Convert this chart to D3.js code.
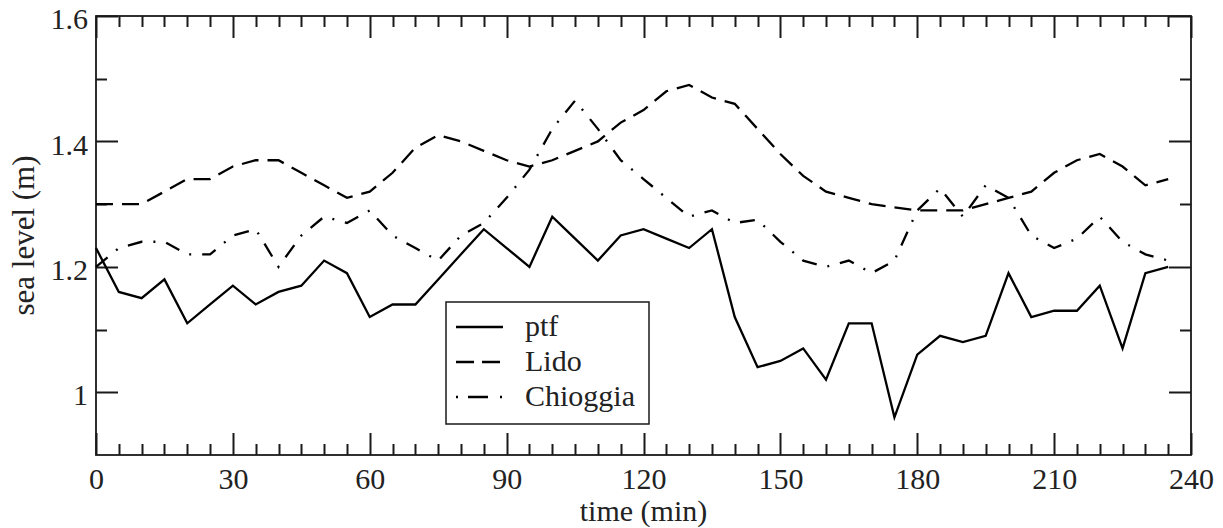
<!DOCTYPE html>
<html>
<head>
<meta charset="utf-8">
<script src="https://cdn.jsdelivr.net/npm/d3@7"></script>
<style>
  html, body { margin: 0; padding: 0; background: #fff; }
  svg text { font-family: "Liberation Serif", "Times New Roman", serif; fill: #222; }
</style>
</head>
<body>
<div id="chart"></div>
<script>
// time in minutes
const times = [0, 5, 10, 15, 20, 25, 30, 35, 40, 45, 50, 55, 60, 65, 70, 75, 80, 85, 90, 95,
  100, 105, 110, 115, 120, 125, 130, 135, 140, 145, 150, 155, 160, 165, 170, 175, 180, 185,
  190, 195, 200, 205, 210, 215, 220, 225, 230, 235];

const ptf = [1.23, 1.16, 1.15, 1.18, 1.11, 1.14, 1.17, 1.14, 1.16, 1.17, 1.21, 1.19, 1.12,
  1.14, 1.14, 1.18, 1.22, 1.26, 1.23, 1.20, 1.28, 1.245, 1.21, 1.25, 1.26, 1.245, 1.23, 1.26,
  1.12, 1.04, 1.05, 1.07, 1.02, 1.11, 1.11, 0.96, 1.06, 1.09, 1.08, 1.09, 1.19, 1.12, 1.13,
  1.13, 1.17, 1.07, 1.19, 1.20];

const lido = [1.30, 1.30, 1.30, 1.32, 1.34, 1.34, 1.36, 1.37, 1.37, 1.35, 1.33, 1.31, 1.32,
  1.35, 1.39, 1.41, 1.40, 1.385, 1.37, 1.36, 1.37, 1.385, 1.40, 1.43, 1.45, 1.48, 1.49, 1.47,
  1.46, 1.42, 1.38, 1.345, 1.32, 1.31, 1.30, 1.295, 1.29, 1.29, 1.29, 1.30, 1.31, 1.32, 1.35,
  1.37, 1.38, 1.36, 1.33, 1.34];

const chioggia = [1.20, 1.23, 1.24, 1.24, 1.22, 1.22, 1.25, 1.26, 1.20, 1.25, 1.28, 1.27, 1.29,
  1.25, 1.23, 1.21, 1.25, 1.27, 1.31, 1.355, 1.42, 1.465, 1.42, 1.37, 1.34, 1.31, 1.28, 1.29,
  1.27, 1.275, 1.24, 1.21, 1.20, 1.21, 1.19, 1.21, 1.29, 1.325, 1.28, 1.33, 1.31, 1.25, 1.23,
  1.245, 1.28, 1.24, 1.22, 1.21];

const seriesNames = ["ptf", "Lido", "Chioggia"];
const xMajor = [0, 30, 60, 90, 120, 150, 180, 210, 240];
const xMinor = [5, 10, 15, 20, 25, 35, 40, 45, 50, 55, 65, 70, 75, 80, 85, 95, 100, 105, 110,
  115, 125, 130, 135, 140, 145, 155, 160, 165, 170, 175, 185, 190, 195, 200, 205, 215, 220,
  225, 230, 235];
const yMajor = [1.0, 1.2, 1.4, 1.6];
const yMinor = [1.1, 1.3, 1.5];

const W = 1223, H = 528;
const margin = { top: 16, right: 32, bottom: 73, left: 96 };
const width = W - margin.left - margin.right;
const height = H - margin.top - margin.bottom;

const svg = d3.select("#chart").append("svg")
  .attr("width", W)
  .attr("height", H);

const g = svg.append("g")
  .attr("transform", "translate(" + margin.left + "," + margin.top + ")");

const x = d3.scaleLinear().domain([0, 240]).range([0, width]);
const y = d3.scaleLinear().domain([0.9, 1.6]).range([height, 0]);

const majorLen = 22, minorLen = 11;
const fontSize = 30;
const axisColor = "#1a1a1a";

function styleLabels(sel) {
  sel.select(".domain").remove();
  sel.selectAll(".tick line").remove();
  sel.selectAll(".tick text")
    .style("font-family", '"Liberation Serif", "Times New Roman", serif')
    .style("font-size", fontSize + "px")
    .attr("fill", axisColor);
}

// tick labels from d3 axes
g.append("g")
  .attr("transform", "translate(0," + height + ")")
  .call(d3.axisBottom(x).tickValues(xMajor).tickSize(0).tickFormat(d3.format("d")))
  .call(styleLabels)
  .selectAll(".tick text").attr("y", 34).attr("dy", null);

g.append("g")
  .call(d3.axisLeft(y).tickValues(yMajor).tickSize(0).tickPadding(8)
    .tickFormat(d => d === 1 ? "1" : d3.format(".1f")(d)))
  .call(styleLabels)
  .selectAll(".tick text").attr("dy", "0.42em");

// inward tick marks on all four sides, one path
const tp = d3.path();
function xTicks(vals, len) {
  vals.forEach(d => {
    const px = Math.round(x(d)) + 0.5;
    tp.moveTo(px, height); tp.lineTo(px, height - len);
    tp.moveTo(px, 0); tp.lineTo(px, len);
  });
}
function yTicks(vals, len) {
  vals.forEach(d => {
    const py = Math.round(y(d)) + 0.5;
    tp.moveTo(0, py); tp.lineTo(len, py);
    tp.moveTo(width, py); tp.lineTo(width - len, py);
  });
}
xTicks(xMajor, majorLen);
xTicks(xMinor, minorLen);
yTicks(yMajor, majorLen);
yTicks(yMinor, minorLen);

g.append("path")
  .attr("d", tp.toString())
  .attr("fill", "none")
  .style("stroke", axisColor)
  .style("stroke-width", "2px");

// frame
g.append("rect")
  .attr("x", 0).attr("y", 0)
  .attr("width", width).attr("height", height)
  .attr("fill", "none")
  .attr("stroke", axisColor)
  .attr("stroke-width", 1.8);

// axis titles
svg.append("text")
  .attr("x", margin.left + width / 2)
  .attr("y", 521)
  .attr("text-anchor", "middle")
  .style("font-size", fontSize + "px")
  .text("time (min)");

svg.append("text")
  .attr("transform", "translate(34," + (margin.top + height / 2) + ") rotate(-90)")
  .attr("text-anchor", "middle")
  .style("font-size", (fontSize + 1) + "px")
  .text("sea level (m)");

// series
const dashes = {
  "ptf": null,
  "Lido": "17,9",
  "Chioggia": "15,11,2,11"
};
const values = { "ptf": ptf, "Lido": lido, "Chioggia": chioggia };

const line = d3.line()
  .x((d, i) => x(times[i]))
  .y(d => y(d));

seriesNames.forEach(name => {
  g.append("path")
    .datum(values[name])
    .attr("d", line)
    .attr("fill", "none")
    .attr("stroke", "#000")
    .attr("stroke-width", 2.3)
    .attr("stroke-linejoin", "miter")
    .attr("stroke-dasharray", dashes[name]);
});

// legend
const legend = svg.append("g").attr("transform", "translate(446,302)");
legend.append("rect")
  .attr("width", 203).attr("height", 122)
  .attr("fill", "#fff")
  .attr("stroke", axisColor)
  .attr("stroke-width", 1.5);

const legendDash = { "ptf": null, "Lido": "18,8", "Chioggia": "2,10,20,12" };
seriesNames.forEach((name, i) => {
  const ly = 25 + i * 35;
  legend.append("line")
    .attr("x1", 10).attr("x2", 57)
    .attr("y1", ly).attr("y2", ly)
    .attr("stroke", "#000")
    .attr("stroke-width", 2.3)
    .attr("stroke-dasharray", legendDash[name]);
  legend.append("text")
    .attr("x", 79)
    .attr("y", ly + 9)
    .style("font-size", fontSize + "px")
    .text(name);
});
</script>
</body>
</html>
